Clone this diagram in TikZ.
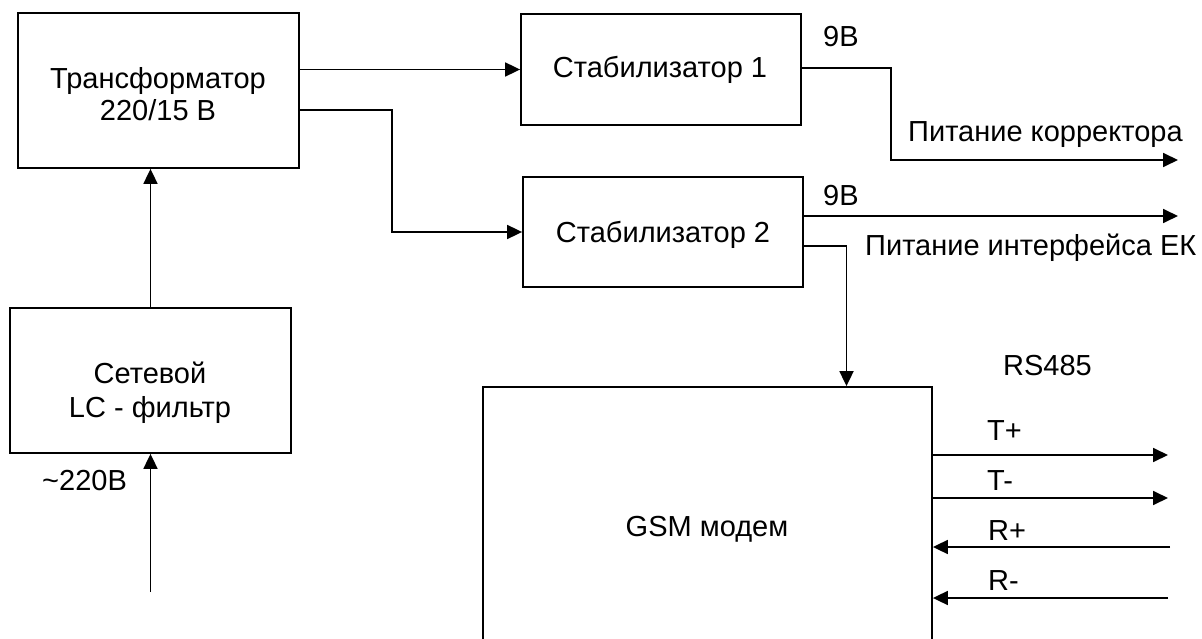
\documentclass[tikz,border=0pt]{standalone}
\usepackage{fontspec}
\setmainfont{Liberation Sans}
\usetikzlibrary{arrows.meta}
\tikzset{
  blk/.style={draw, line width=1.8pt, rectangle, inner sep=0pt},
  arr/.style={line width=1.8pt, -{Triangle[length=15pt,width=14pt]}},
  txt/.style={inner sep=0pt, anchor=base, font=\fontsize{29}{34}\selectfont},
  txtw/.style={inner sep=0pt, anchor=base west, font=\fontsize{29}{34}\selectfont}
}
\begin{document}
\begin{tikzpicture}[x=1pt,y=-1pt]
\useasboundingbox (0,0) rectangle (1202,639);
\clip (0,0) rectangle (1202,639);
% boxes
\node[blk, minimum width=281pt, minimum height=155pt] (trans) at (158.5,90.5) {};
\node[blk, minimum width=280pt, minimum height=111pt] (stab1) at (661,69.5) {};
\node[blk, minimum width=280pt, minimum height=110pt] (stab2) at (663,232) {};
\node[blk, minimum width=281pt, minimum height=145pt] (filt) at (150.5,380.5) {};
\node[blk, minimum width=449pt, minimum height=283pt] (gsm) at (707.5,528.5) {};
% box texts
\node[txt] (t1) at (158,88.3) {Трансформатор};
\node[txt] (t2) at (158,120.7) {220/15 В};
\node[txt] (s1) at (660,77.3) {Стабилизатор 1};
\node[txt] (s2) at (663,242.3) {Стабилизатор 2};
\node[txt] (f1) at (150,383.3) {Сетевой};
\node[txt] (f2) at (150,417.3) {LC - фильтр};
\node[txt] (g1) at (707,536.7) {GSM модем};
% connectors
\coordinate (b1) at (392,110);
\coordinate (b2) at (891,68);
\coordinate (b3) at (891,160);
\coordinate (b4) at (846.5,246);
\draw[arr] (trans.east |- stab1.west) -- (stab1.west);
\draw[arr] (trans.east |- b1) -- (b1) -- (b1 |- stab2.west) -- (stab2.west);
\draw[arr] (filt.north) -- (filt.north |- trans.south);
\coordinate (ac) at (150.5,592);
\draw[arr] (ac) -- (filt.south);
\coordinate (out1) at (1178,160);
\draw[arr] (stab1.east |- b2) -- (b2) -- (b3) -- (out1);
\coordinate (out2) at (1178,216);
\draw[arr] (stab2.east |- out2) -- (out2);
\draw[arr] (stab2.east |- b4) -- (b4) -- (b4 |- gsm.north);
\coordinate (tp) at (1168,455);
\coordinate (tm) at (1168,498);
\coordinate (rp) at (1170,547);
\coordinate (rm) at (1168,598);
\draw[arr] (gsm.east |- tp) -- (tp);
\draw[arr] (gsm.east |- tm) -- (tm);
\draw[arr] (rp) -- (gsm.east |- rp);
\draw[arr] (rm) -- (gsm.east |- rm);
% labels
\node[txtw] (v1) at (823,46.7) {9В};
\node[txtw] (v2) at (823,206) {9В};
\node[txtw] (p1) at (908,141.7) {Питание корректора};
\node[txtw] (p2) at (865,255) {Питание интерфейса ЕК};
\node[txtw] (rs) at (1003,375) {RS485};
\node[txtw] (l1) at (987,440) {T+};
\node[txtw] (l2) at (987,490) {T-};
\node[txtw] (l3) at (988,540) {R+};
\node[txtw] (l4) at (988,590) {R-};
\node[txtw] (ac220) at (42,490) {\textasciitilde220В};
\end{tikzpicture}
\end{document}
